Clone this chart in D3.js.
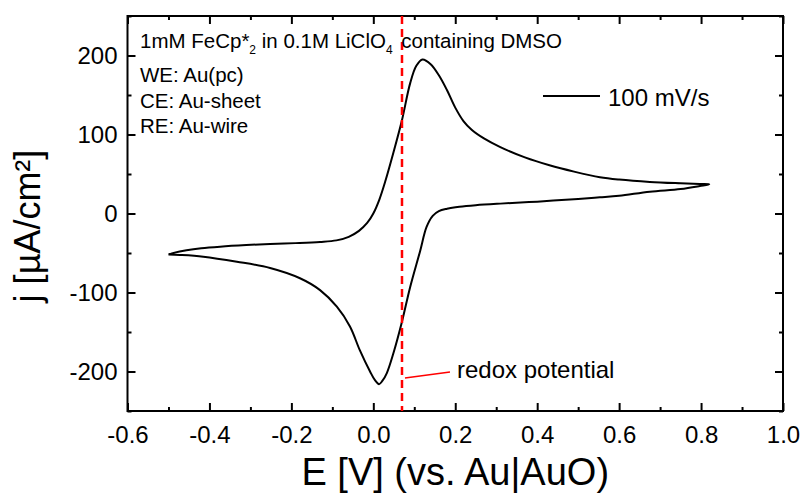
<!DOCTYPE html>
<html>
<head>
<meta charset="utf-8">
<script src="https://cdn.jsdelivr.net/npm/d3@7"></script>
<style>
  html, body { margin: 0; padding: 0; background: #fff; }
  svg { display: block; font-family: "Liberation Sans", Arial, sans-serif; }
</style>
</head>
<body>
<svg id="chart" width="803" height="493"></svg>
<script>
// Cyclic voltammogram of FeCp*2, 100 mV/s
// Anodic (forward) sweep: E in V, j in µA/cm²
const forwardE = [-0.500, -0.485, -0.456, -0.420, -0.374, -0.310, -0.252, -0.190, -0.130, -0.090, -0.060, -0.035, -0.015, 0.000, 0.015, 0.030, 0.048, 0.069, 0.090, 0.105, 0.120, 0.140, 0.160, 0.180, 0.200, 0.220, 0.240, 0.270, 0.310, 0.370, 0.430, 0.490, 0.553, 0.600, 0.675, 0.750, 0.797, 0.820];
const forwardJ = [-52, -49.5, -46.5, -44, -42, -40, -38.6, -37.5, -36, -34, -29.5, -22, -12, 0, 18, 42, 75, 116, 165, 187, 195, 189, 175, 156, 134, 117, 106, 95, 84, 71, 61, 53, 46, 43, 40, 38.2, 37.3, 37];
// Cathodic (reverse) sweep
const reverseE = [0.820, 0.797, 0.750, 0.675, 0.600, 0.553, 0.500, 0.400, 0.310, 0.250, 0.210, 0.180, 0.160, 0.145, 0.130, 0.114, 0.090, 0.069, 0.049, 0.033, 0.022, 0.014, 0.004, -0.008, -0.033, -0.057, -0.089, -0.130, -0.179, -0.252, -0.333, -0.415, -0.472, -0.500];
const reverseJ = [37, 34.8, 31, 27.6, 22.5, 20.5, 18.5, 15, 12.5, 10.5, 8.5, 6, 3, -3, -17, -48, -93, -139, -177, -202, -212, -216, -211, -200, -173, -143, -118, -97, -82, -69, -61, -54.6, -52.5, -52];

const redoxPotential = 0.07;
const xTicks = [-0.6, -0.4, -0.2, 0.0, 0.2, 0.4, 0.6, 0.8, 1.0];
const xMinorTicks = [-0.5, -0.3, -0.1, 0.1, 0.3, 0.5, 0.7, 0.9];
const yTicks = [-200, -100, 0, 100, 200];
const yMinorTicks = [-250, -150, -50, 50, 150, 250];

const margin = { left: 127.5, right: 20, top: 16, bottom: 82 };
const W = 803, H = 493;
const svg = d3.select("#chart");

const x = d3.scaleLinear().domain([-0.6, 1.0]).range([margin.left, W - margin.right]);
const y = d3.scaleLinear().domain([-250, 250]).range([H - margin.bottom, margin.top]);

const x0 = margin.left, x1 = W - margin.right, y0 = margin.top, y1 = H - margin.bottom;

// Inward-pointing ticks on all four sides
function tickGroup(axis, tx, ty) {
  const g = svg.append("g").attr("transform", `translate(${tx},${ty})`).call(axis);
  g.select(".domain").remove();
  g.selectAll(".tick line").attr("stroke", "#000").attr("stroke-width", 2);
  return g;
}
const fmtX = d => d.toFixed(1);
const fmtY = d => String(d);

const gx = tickGroup(d3.axisBottom(x).tickValues(xTicks).tickSize(-8).tickPadding(15).tickFormat(fmtX), 0, y1);
tickGroup(d3.axisBottom(x).tickValues(xMinorTicks).tickSize(-4).tickFormat(""), 0, y1);
tickGroup(d3.axisTop(x).tickValues(xTicks).tickSize(-8).tickFormat(""), 0, y0);
tickGroup(d3.axisTop(x).tickValues(xMinorTicks).tickSize(-4).tickFormat(""), 0, y0);

const gy = tickGroup(d3.axisLeft(y).tickValues(yTicks).tickSize(-8).tickPadding(10).tickFormat(fmtY), x0, 0);
tickGroup(d3.axisLeft(y).tickValues(yMinorTicks).tickSize(-4).tickFormat(""), x0, 0);
tickGroup(d3.axisRight(y).tickValues(yTicks).tickSize(-8).tickFormat(""), x1, 0);
tickGroup(d3.axisRight(y).tickValues(yMinorTicks).tickSize(-4).tickFormat(""), x1, 0);

[gx, gy].forEach(g => g.selectAll(".tick text")
  .attr("font-family", "Liberation Sans, Arial, sans-serif")
  .attr("font-size", 24).attr("fill", "#000"));

// Plot frame
svg.append("rect")
  .attr("x", x0).attr("y", y0).attr("width", x1 - x0).attr("height", y1 - y0)
  .attr("fill", "none").attr("stroke", "#000").attr("stroke-width", 2);

// Voltammogram
const pts = forwardE.map((e, i) => [e, forwardJ[i]])
  .concat(reverseE.slice(1).map((e, i) => [e, reverseJ[i + 1]]));
const line = d3.line().x(d => x(d[0])).y(d => y(d[1])).curve(d3.curveCatmullRom.alpha(0.5));
svg.append("path").attr("d", line(pts))
  .attr("fill", "none").attr("stroke", "#000").attr("stroke-width", 2).attr("stroke-linejoin", "round");

// Redox potential marker
svg.append("line")
  .attr("x1", x(redoxPotential)).attr("x2", x(redoxPotential))
  .attr("y1", y0).attr("y2", y1)
  .attr("stroke", "#ff0000").attr("stroke-width", 2.5).attr("stroke-dasharray", "8,5");
svg.append("line")
  .attr("x1", x(redoxPotential) + 3).attr("y1", 378)
  .attr("x2", 450).attr("y2", 372)
  .attr("stroke", "#ff0000").attr("stroke-width", 1.5);
svg.append("text").attr("x", 457).attr("y", 378)
  .attr("font-size", 24).text("redox potential");

// Legend
svg.append("line").attr("x1", 543).attr("x2", 600).attr("y1", 96).attr("y2", 96)
  .attr("stroke", "#000").attr("stroke-width", 2);
svg.append("text").attr("x", 608).attr("y", 106).attr("font-size", 24).text("100 mV/s");

// Experimental conditions
const t1 = svg.append("text").attr("x", 140).attr("y", 48).attr("font-size", 20.5);
t1.append("tspan").text("1mM FeCp*");
t1.append("tspan").attr("font-size", 12).attr("dy", 6).text("2");
t1.append("tspan").attr("dy", -6).text(" in 0.1M LiClO");
t1.append("tspan").attr("font-size", 12).attr("dy", 6).text("4");
t1.append("tspan").attr("dy", -6).attr("dx", 3).text(" containing DMSO");

[["WE: Au(pc)", 82], ["CE: Au-sheet", 107.5], ["RE: Au-wire", 133]].forEach(([s, yy]) => {
  svg.append("text").attr("x", 140).attr("y", yy).attr("font-size", 20.5).text(s);
});

// Axis titles
svg.append("text").attr("x", (x0 + x1) / 2).attr("y", 485)
  .attr("text-anchor", "middle").attr("font-size", 38).text("E [V] (vs. Au|AuO)");
svg.append("text").attr("transform", "translate(40,226) rotate(-90)")
  .attr("text-anchor", "middle").attr("font-size", 36).text("j [µA/cm²]");
</script>
</body>
</html>
